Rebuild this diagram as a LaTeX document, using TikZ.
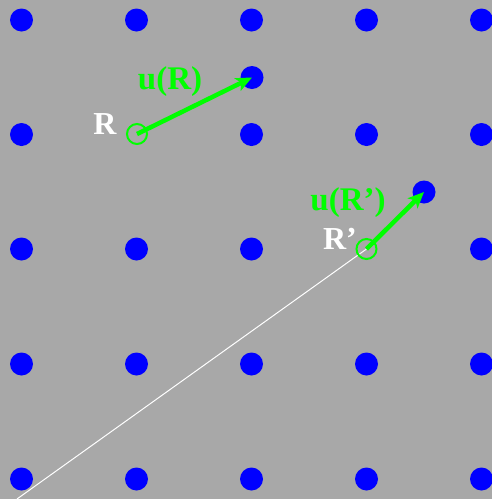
\documentclass[tikz,border=0pt]{standalone}
\usepackage{fontspec}
\setmainfont{Liberation Serif}
\usetikzlibrary{arrows.meta}
\definecolor{bg}{RGB}{168,168,168}
\definecolor{dotblue}{RGB}{0,0,255}
\definecolor{vgreen}{RGB}{0,255,0}
\tikzset{
  dot/.style={circle,fill=dotblue,inner sep=0pt,minimum size=23pt},
  site/.style={circle,draw=vgreen,line width=2pt,inner sep=0pt,minimum size=20pt},
  disp/.style={draw=vgreen,line width=4.5pt,-{Stealth[length=16pt,width=14pt,inset=4pt]}},
  glabel/.style={text=vgreen,font=\fontsize{33}{36}\selectfont\bfseries,inner sep=0pt},
  wlabel/.style={text=white,font=\fontsize{32}{36}\selectfont\bfseries,inner sep=0pt},
}
\begin{document}
\begin{tikzpicture}[x=1pt,y=-1pt]
\fill[bg] (0,0) rectangle (492,499);
\useasboundingbox (0,0) rectangle (492,499);
\begin{scope}
\clip (0,0) rectangle (492,499);
\foreach \i/\x in {0/21.5,1/136.5,2/251.5,3/366.5,4/481.5}{
  \foreach \j/\y in {0/20,1/134.5,2/249,3/364,4/479}{
    \ifnum\i=1 \ifnum\j=1 \else \node[dot] at (\x,\y) {};\fi
    \else \ifnum\i=3 \ifnum\j=2 \else \node[dot] at (\x,\y) {};\fi
    \else \node[dot] at (\x,\y) {};\fi\fi
  }
}
\node[dot] (d1) at (252,77.5) {};
\node[dot] (d2) at (424,192) {};
\coordinate (o) at (17,499);
\coordinate (r1c) at (137,134);
\coordinate (r2c) at (366.5,249);
\draw[white,line width=1pt] (r2c) -- (o);
\node[site] (r1) at (r1c) {};
\node[site] (r2) at (r2c) {};
\draw[disp] (r1.center) -- (d1.center);
\draw[disp] (r2.center) -- (d2.center);
\node[glabel] (l1) at (170,82) {u(R)};
\node[wlabel] (l2) at (105,124) {R};
\node[glabel] (l3) at (348,203) {u(R’)};
\node[wlabel] (l4) at (340,238.5) {R’};
\end{scope}
\end{tikzpicture}
\end{document}
